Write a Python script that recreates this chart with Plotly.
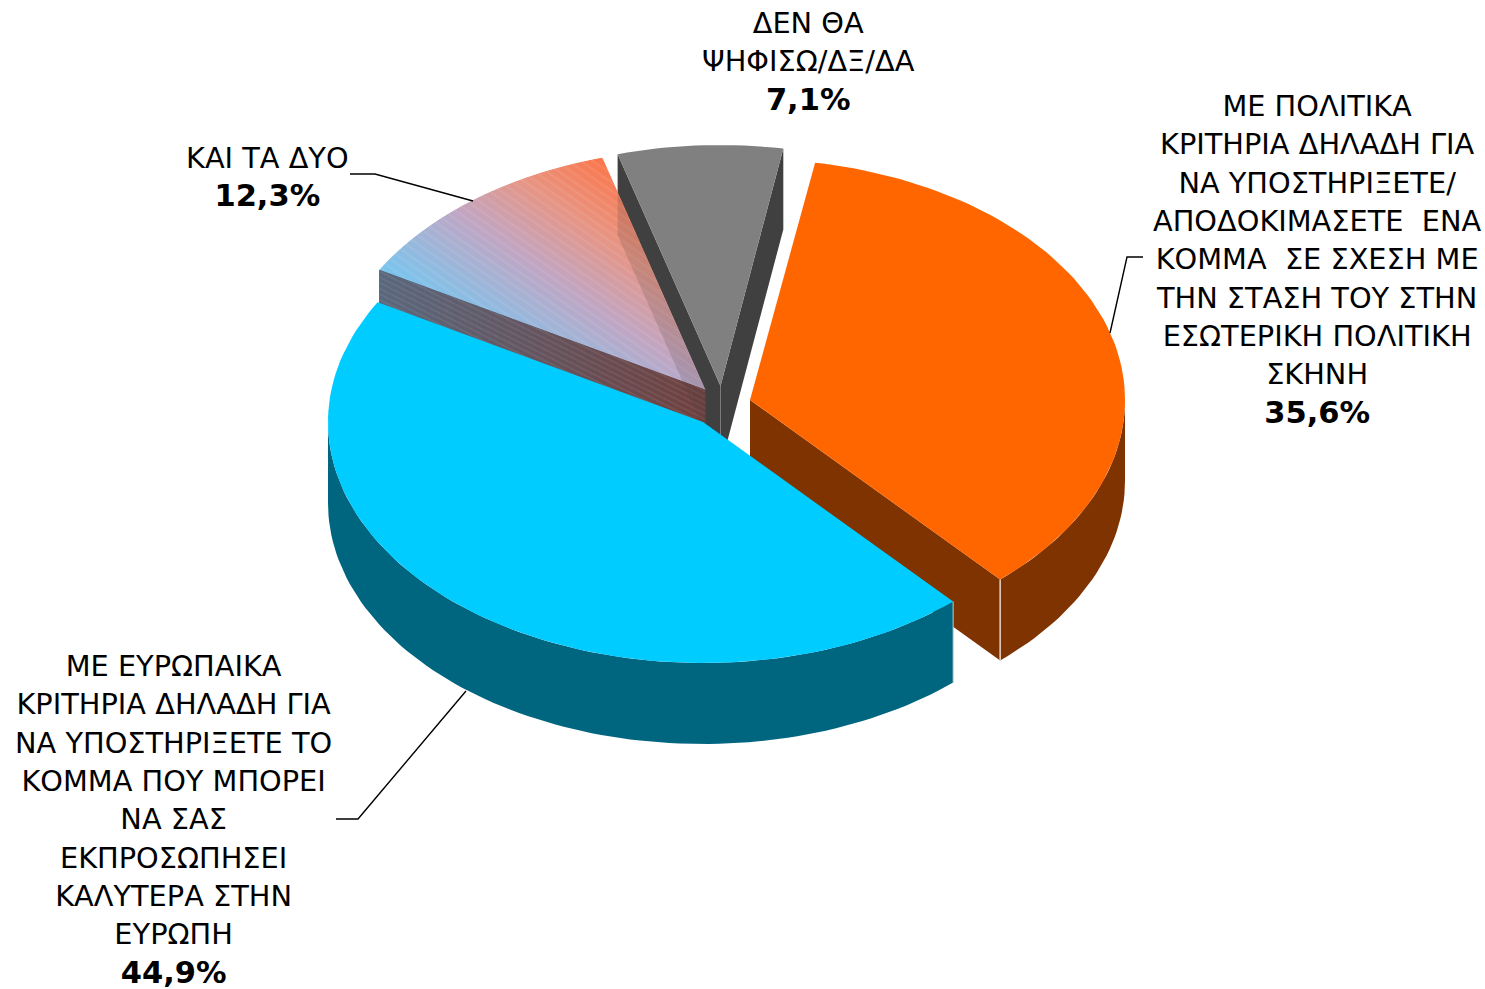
import math
import plotly.graph_objects as go

# ---------- data ----------
SLICE_NAMES = ["orange", "blue", "pink", "grey"]
VALUES = [35.6, 44.9, 12.3, 7.1]
PERCENT_LABELS = ["35,6%", "44,9%", "12,3%", "7,1%"]
LABEL_LINES = [
    ["ΜΕ ΠΟΛΙΤΙΚΑ", "ΚΡΙΤΗΡΙΑ ΔΗΛΑΔΗ ΓΙΑ", "ΝΑ ΥΠΟΣΤΗΡΙΞΕΤΕ/", "ΑΠΟΔΟΚΙΜΑΣΕΤΕ\u00a0 ΕΝΑ",
     "ΚΟΜΜΑ\u00a0 ΣΕ ΣΧΕΣΗ ΜΕ", "ΤΗΝ ΣΤΑΣΗ ΤΟΥ ΣΤΗΝ", "ΕΣΩΤΕΡΙΚΗ ΠΟΛΙΤΙΚΗ", "ΣΚΗΝΗ"],
    ["ΜΕ ΕΥΡΩΠΑΙΚΑ", "ΚΡΙΤΗΡΙΑ ΔΗΛΑΔΗ ΓΙΑ", "ΝΑ ΥΠΟΣΤΗΡΙΞΕΤΕ ΤΟ", "ΚΟΜΜΑ ΠΟΥ ΜΠΟΡΕΙ",
     "ΝΑ ΣΑΣ", "ΕΚΠΡΟΣΩΠΗΣΕΙ", "ΚΑΛΥΤΕΡΑ ΣΤΗΝ", "ΕΥΡΩΠΗ"],
    ["ΚΑΙ ΤΑ ΔΥΟ"],
    ["ΔΕΝ ΘΑ", "ΨΗΦΙΣΩ/ΔΞ/ΔΑ"],
]

# ---------- styles / layout ----------
TOP_COLORS = ["#FF6600", "#00CCFF", None, "#808080"]
WALL_COLORS = ["#7F3300", "#006680", None, "#404040"]
GRAD_STOPS = [(0.0, (118, 198, 240)), (0.42, (192, 166, 196)), (0.72, (232, 148, 130)), (1.0, (252, 118, 74))]
WALL_LOW, WALL_HIGH = (90, 104, 126), (112, 64, 62)
CENTERS = [(750, 400), (703, 422), (705, 390), (720.5, 386)]
RX, RY, DEPTH = 375, 241, 81
START_ANGLE = 10
LABEL_POS = [(1317, 259.5), (173, 819.5), (267, 176.5), (808, 61)]
LEADERS = [
    [(1143, 257), (1127, 257), (1110, 333)],
    [(336, 819), (358, 819), (466, 691)],
    [(350, 174), (375, 174), (473, 201)],
]
FONT = "DejaVu Sans"
FONT_SIZE = 29.5
BODY_SIZE = 28.8
PCT_SIZE = 30.5


def rim(i, a):
    cx, cy = CENTERS[i]
    r = math.radians(a)
    return cx + RX * math.sin(r), cy - RY * math.cos(r)


def shift(pts):
    return [(x, y + DEPTH) for x, y in pts]


def arc(i, a0, a1, step=1.5):
    n = max(2, int(abs(a1 - a0) / step))
    return [rim(i, a0 + (a1 - a0) * k / n) for k in range(n + 1)]


def clip_half(poly, keep):
    out = []
    for k in range(len(poly)):
        p, q = poly[k], poly[(k + 1) % len(poly)]
        fp, fq = keep(p), keep(q)
        if fp >= 0:
            out.append(p)
        if (fp >= 0) != (fq >= 0):
            t = fp / (fp - fq)
            out.append((p[0] + (q[0] - p[0]) * t, p[1] + (q[1] - p[1]) * t))
    return out


def clip_convex(poly, clipper):
    area = sum(clipper[k][0] * clipper[(k + 1) % len(clipper)][1]
               - clipper[(k + 1) % len(clipper)][0] * clipper[k][1] for k in range(len(clipper)))
    sign = 1 if area > 0 else -1
    for k in range(len(clipper)):
        a, b = clipper[k], clipper[(k + 1) % len(clipper)]
        f = lambda p, a=a, b=b: sign * ((b[0] - a[0]) * (p[1] - a[1]) - (b[1] - a[1]) * (p[0] - a[0]))
        poly = clip_half(poly, f)
        if not poly:
            break
    return poly


fig = go.Figure()


def add_poly(pts, color, line=None):
    fig.add_trace(go.Scatter(
        x=[p[0] for p in pts] + [pts[0][0]], y=[p[1] for p in pts] + [pts[0][1]],
        mode="lines", fill="toself", fillcolor=color,
        line=dict(color=line or color, width=1 if line else 0),
        hoverinfo="skip", showlegend=False))


def mix(a, b, t):
    t = max(0, min(1, t))
    return "rgb(%d,%d,%d)" % tuple(round(a[k] + (b[k] - a[k]) * t) for k in range(3))


def grad(t):
    for (t0, c0), (t1, c1) in zip(GRAD_STOPS, GRAD_STOPS[1:]):
        if t <= t1:
            return mix(c0, c1, (t - t0) / (t1 - t0))
    return mix(GRAD_STOPS[-1][1], GRAD_STOPS[-1][1], 0)


def hatch(poly, ux, uy, period, width, color):
    us = [p[0] * ux + p[1] * uy for p in poly]
    xs, ys = [], []
    u = min(us)
    while u < max(us):
        band = clip_half(poly, lambda p, u=u: p[0] * ux + p[1] * uy - u)
        band = clip_half(band, lambda p, u=u: u + width - p[0] * ux - p[1] * uy) if band else []
        if len(band) > 2:
            xs += [p[0] for p in band] + [band[0][0], None]
            ys += [p[1] for p in band] + [band[0][1], None]
        u += period
    fig.add_trace(go.Scatter(x=xs, y=ys, mode="lines", fill="toself", fillcolor=color,
                             line=dict(width=0, color=color), hoverinfo="skip", showlegend=False))


# slice angles from the values (percent -> degrees)
angles = [START_ANGLE]
for v in VALUES:
    angles.append(angles[-1] + v * 3.6)
ANG = {n: (angles[k], angles[k + 1]) for k, n in enumerate(SLICE_NAMES)}
IDX = {n: k for k, n in enumerate(SLICE_NAMES)}

# ---- grey slice (back) ----
g = IDX["grey"]
g0, g1 = ANG["grey"]
gc = CENTERS[g]
grey_left = [gc, rim(g, g0), shift([rim(g, g0)])[0], shift([gc])[0]]
grey_right = [gc, rim(g, g1), shift([rim(g, g1)])[0], shift([gc])[0]]
add_poly(grey_left, WALL_COLORS[g])
add_poly(grey_right, WALL_COLORS[g])
add_poly([gc] + arc(g, g0, g1), TOP_COLORS[g])
fig.add_trace(go.Scatter(x=[gc[0], gc[0]], y=[gc[1], gc[1] + DEPTH], mode="lines",
                         line=dict(color="#7a7a7a", width=1), hoverinfo="skip", showlegend=False))

# ---- gradient slice ----
p = IDX["pink"]
p0, p1 = ANG["pink"]
pc = CENTERS[p]
pink_top = [pc] + arc(p, p0, p1)
pink_wall = [pc, rim(p, p0), shift([rim(p, p0)])[0], shift([pc])[0]]

UX, UY = 0.57, -0.82
u_all = [q[0] * UX + q[1] * UY for q in pink_top]
u_min, u_max = min(u_all), max(u_all)
N = 70
for k in range(N):
    ua = u_min + (u_max - u_min) * k / N
    ub = u_min + (u_max - u_min) * (k + 1) / N
    band = clip_half(pink_top, lambda q, ua=ua: q[0] * UX + q[1] * UY - ua)
    band = clip_half(band, lambda q, ub=ub: ub - q[0] * UX - q[1] * UY) if band else []
    if len(band) > 2:
        c = grad((k + 0.5) / N)
        add_poly(band, c, line=c)
hatch(pink_top, UX, UY, 7.0, 2.5, "rgba(255,255,255,0.07)")

wx0, wx1 = pink_wall[1][0], pink_wall[0][0]
M = 60
for k in range(M):
    xa = wx0 + (wx1 - wx0) * k / M
    xb = wx0 + (wx1 - wx0) * (k + 1) / M
    band = clip_half(pink_wall, lambda q, xa=xa: q[0] - xa)
    band = clip_half(band, lambda q, xb=xb: xb - q[0]) if band else []
    if len(band) > 2:
        c = mix(WALL_LOW, WALL_HIGH, (k + 0.5) / M)
        add_poly(band, c, line=c)
hatch(pink_wall, 0.45, -0.89, 5.0, 1.8, "rgba(255,255,255,0.07)")

# grey wall seen through the translucent slice
for clipper in (pink_top, pink_wall):
    part = clip_convex(grey_left, clipper)
    if len(part) > 2:
        add_poly(part, "rgba(64,64,64,0.18)")

# ---- orange slice ----
o = IDX["orange"]
o0, o1 = ANG["orange"]
oc = CENTERS[o]
outer = arc(o, 90, o1)
add_poly(outer + shift(outer)[::-1], WALL_COLORS[o])
add_poly([oc, rim(o, o1), shift([rim(o, o1)])[0], shift([oc])[0]], WALL_COLORS[o])
add_poly([oc] + arc(o, o0, o1), TOP_COLORS[o])
oe = rim(o, o1)
fig.add_trace(go.Scatter(x=[oe[0], oe[0]], y=[oe[1], oe[1] + DEPTH], mode="lines",
                         line=dict(color="#e4d6cc", width=1.5), hoverinfo="skip", showlegend=False))

# ---- blue slice (front) ----
b = IDX["blue"]
b0, b1 = ANG["blue"]
bc = CENTERS[b]
outer = arc(b, b0, 270)
add_poly(outer + shift(outer)[::-1], WALL_COLORS[b])
add_poly([bc] + arc(b, b0, b1), TOP_COLORS[b])
be = rim(b, b0)
fig.add_trace(go.Scatter(x=[be[0], be[0]], y=[be[1], be[1] + DEPTH], mode="lines",
                         line=dict(color="#b8ccd4", width=1), hoverinfo="skip", showlegend=False))

# ---- leader lines ----
for pts in LEADERS:
    fig.add_trace(go.Scatter(x=[q[0] for q in pts], y=[q[1] for q in pts], mode="lines",
                             line=dict(color="black", width=1.4), hoverinfo="skip", showlegend=False))

# ---- labels ----
for lines, pct, (x, y) in zip(LABEL_LINES, PERCENT_LABELS, LABEL_POS):
    body = "<br>".join('<span style="font-size:%gpx">%s</span>' % (BODY_SIZE, t) for t in lines)
    fig.add_annotation(x=x, y=y, xref="x", yref="y", showarrow=False, align="center",
                       xanchor="center", yanchor="middle",
                       text=body + '<br><b><span style="font-size:%gpx">%s</span></b>' % (PCT_SIZE, pct),
                       font=dict(family=FONT, size=FONT_SIZE, color="black"))

fig.update_layout(
    width=1485, height=989, margin=dict(l=0, r=0, t=0, b=0, pad=0),
    paper_bgcolor="white", plot_bgcolor="white", showlegend=False,
    xaxis=dict(range=[0, 1485], visible=False, fixedrange=True),
    yaxis=dict(range=[989, 0], visible=False, fixedrange=True),
)
fig.write_html("out.html", config={"displayModeBar": False},
               post_script="document.body.style.margin='0';document.documentElement.style.overflow='hidden';")
